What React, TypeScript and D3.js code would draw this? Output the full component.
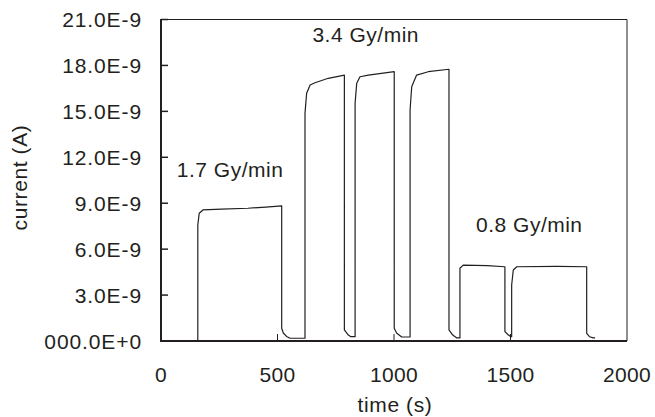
import React from 'react';
import * as d3 from 'd3';

// time (s) and current (nA); vertical edges repeat the time
const time = [
  0, 158, 158, 164, 180, 260, 373, 450, 518,
  518, 525, 539, 554, 618,
  618, 625, 640, 661, 718, 787,
  787, 804, 815, 833,
  833, 840, 854, 890, 1001,
  1001, 1011, 1033, 1069,
  1069, 1076, 1097, 1147, 1236,
  1236, 1252, 1270, 1283,
  1283, 1297, 1400, 1476,
  1476, 1491, 1502, 1505,
  1505, 1512, 1527, 1700, 1827,
  1827, 1839, 1856, 1863
];
const current = [
  0.02, 0.02, 7.58, 8.34, 8.56, 8.62, 8.67, 8.75, 8.82,
  0.83, 0.52, 0.3, 0.18, 0.18,
  14.87, 16.18, 16.72, 16.87, 17.16, 17.37,
  0.72, 0.39, 0.28, 0.28,
  15.53, 16.83, 17.26, 17.37, 17.59,
  0.83, 0.52, 0.26, 0.26,
  15.09, 16.61, 17.37, 17.59, 17.75,
  0.72, 0.39, 0.2, 0.2,
  4.75, 4.96, 4.92, 4.85,
  0.61, 0.39, 0.28, 0.28,
  3.66, 4.64, 4.85, 4.87, 4.85,
  0.5, 0.28, 0.2, 0.2
];

const yTicks = [0, 3, 6, 9, 12, 15, 18, 21];
const yTickLabels = ['000.0E+0', '3.0E-9', '6.0E-9', '9.0E-9', '12.0E-9', '15.0E-9', '18.0E-9', '21.0E-9'];
const xTicks = [0, 500, 1000, 1500, 2000];

const annotations = [
  { label: '1.7 Gy/min', t: 68, v: 10.7 },
  { label: '3.4 Gy/min', t: 650, v: 19.5 },
  { label: '0.8 Gy/min', t: 1352, v: 7.1 }
];

export default function App() {
  const left = 161, right = 627, top = 19.5, bottom = 341;
  const ink = '#231f20';
  const font = '"Liberation Sans", Arial, sans-serif';

  const x = d3.scaleLinear().domain([0, 2000]).range([left, right]);
  const y = d3.scaleLinear().domain([0, 21]).range([bottom, top]);

  const points: [number, number][] = time.map((t, i) => [t, current[i]]);
  const line = d3.line<[number, number]>()
    .x(d => x(d[0]))
    .y(d => y(d[1]));

  return (
    <svg width={655} height={417} style={{ position: 'absolute', left: 0, top: 0, background: '#fff' }}>
      {/* frame: heavy left/bottom, light top/right */}
      <line x1={left} x2={right} y1={top} y2={top} stroke={ink} strokeWidth={1} />
      <line x1={right} x2={right} y1={top} y2={bottom} stroke={ink} strokeWidth={1} />

      <path d={line(points) || ''} fill="none" stroke={ink} strokeWidth={1.2} strokeLinejoin="round" />

      {yTicks.map((v, i) => (
        <g key={'y' + v}>
          <line x1={left} x2={left + 7} y1={y(v)} y2={y(v)} stroke={ink} strokeWidth={1.5} />
          <text x={142} y={y(v) + 7.5} textAnchor="end" fontFamily={font} fontSize={21}
            letterSpacing={0.9} fill={ink}>
            {yTickLabels[i]}
          </text>
        </g>
      ))}

      {xTicks.map(t => (
        <g key={'x' + t}>
          {t > 0 && t < 2000 && (
            <line x1={x(t)} x2={x(t)} y1={bottom} y2={bottom - 7} stroke={ink} strokeWidth={1} />
          )}
          <text x={x(t)} y={382} textAnchor="middle" fontFamily={font} fontSize={21}
            letterSpacing={0.3} fill={ink}>
            {t}
          </text>
        </g>
      ))}

      <line x1={left} x2={left} y1={top - 0.5} y2={bottom + 1} stroke={ink} strokeWidth={2} />
      <line x1={left - 1} x2={right} y1={bottom} y2={bottom} stroke={ink} strokeWidth={2} />

      {annotations.map(a => (
        <text key={a.label} x={x(a.t)} y={y(a.v)} fontFamily={font} fontSize={21}
          letterSpacing={0.5} fill={ink}>
          {a.label}
        </text>
      ))}

      <text x={395} y={412} textAnchor="middle" fontFamily={font} fontSize={21}
        letterSpacing={0.6} fill={ink}>time (s)</text>
      <text transform="translate(27,177.5) rotate(-90)" textAnchor="middle" fontFamily={font} fontSize={21}
        letterSpacing={0.6} fill={ink}>
        current (A)
      </text>
    </svg>
  );
}
